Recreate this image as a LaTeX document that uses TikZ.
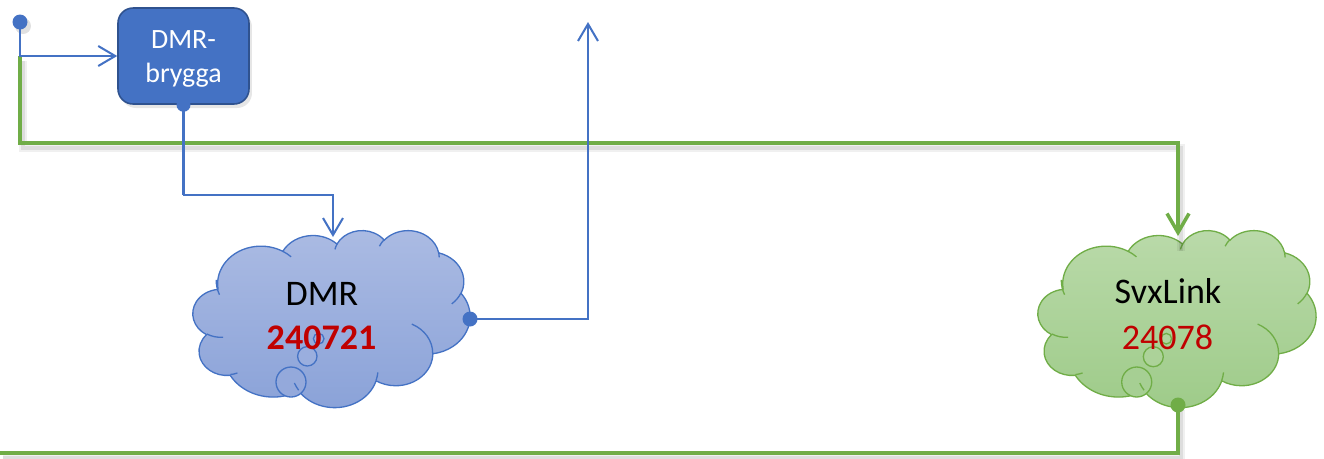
\documentclass[tikz,border=0pt]{standalone}
\usepackage{fontspec}
\setmainfont{Carlito}
\usetikzlibrary{arrows.meta,shadows}
\definecolor{accblue}{HTML}{4472C4}
\definecolor{darkblue}{HTML}{2F528F}
\definecolor{accgreen}{HTML}{70AD47}
\definecolor{numred}{HTML}{C00000}
\definecolor{dmrtop}{RGB}{171,187,227}
\definecolor{dmrbot}{RGB}{138,162,216}
\definecolor{svxtop}{RGB}{186,218,170}
\definecolor{svxbot}{RGB}{158,203,137}
% Office cloud outline in 432x432 path units
\newcommand\cloudbody[5]{%
  \begin{scope}[shift={(#1,#2)},xscale=#3/432,yscale=#4/432]
    \path[#5] (39.00,143.70)
      arc[start angle=-187.75,end angle=-59.65,x radius=67.53,y radius=91.90]
      arc[start angle=-152.02,end angle=-45.46,x radius=53.33,y radius=72.67]
      arc[start angle=-153.49,end angle=-37.32,x radius=43.65,y radius=59.45]
      arc[start angle=-139.71,end angle=-10.21,x radius=48.57,y radius=65.95]
      arc[start angle=-74.77,end angle=23.21,x radius=53.33,y radius=72.73]
      arc[start angle=-37.53,end angle=81.86,x radius=67.75,y radius=92.20]
      arc[start angle=0.46,end angle=121.98,x radius=57.85,y radius=78.67]
      arc[start angle=16.84,end angle=146.23,x radius=67.52,y radius=92.15]
      arc[start angle=58.98,end angle=150.21,x radius=77.20,y radius=105.43]
      arc[start angle=-276.69,end angle=-136.89,x radius=43.60,y radius=59.18]
      arc[start angle=-239.65,end angle=-95.89,x radius=43.45,y radius=59.45]
      -- cycle;
  \end{scope}}
\newcommand\cloudcreases[5]{%
  \begin{scope}[shift={(#1,#2)},xscale=#3/432,yscale=#4/432]
    \draw[#5]
      (46.93,261.77) arc[start angle=85.55,end angle=120.35,x radius=43.45,y radius=59.45]
      (69.28,348.99) arc[start angle=68.24,end angle=83.31,x radius=43.60,y radius=59.18]
      (164.78,390.90) arc[start angle=146.23,end angle=158.47,x radius=67.52,y radius=92.15]
      (288.27,347.51) arc[start angle=4.74,end angle=16.84,x radius=67.52,y radius=92.15]
      (341.29,229.54) arc[start angle=-64.03,end angle=0.46,x radius=57.85,y radius=78.67]
      (417.98,153.54) arc[start angle=23.21,end angle=49.66,x radius=53.33,y radius=72.73]
      (383.24,54.26) arc[start angle=-10.21,end angle=0.83,x radius=48.57,y radius=65.95]
      (290.78,39.52) arc[start angle=-156.29,end angle=-139.71,x radius=48.57,y radius=65.95]
      (221.41,47.20) arc[start angle=-167.73,end angle=-153.49,x radius=43.65,y radius=59.45]
      (140.00,51.92) arc[start angle=-59.65,end angle=-45.74,x radius=67.53,y radius=91.90]
      (41.27,157.89) arc[start angle=157.66,end angle=180.90,x radius=67.53,y radius=91.90];
  \end{scope}}
\tikzset{
  blueline/.style={draw=accblue,line width=1.15pt},
  greenline/.style={draw=accgreen,line width=2pt},
  bluetip/.style={-{Straight Barb[length=0.34cm,width=0.4cm]}},
  greentip/.style={-{Straight Barb[length=0.38cm,width=0.44cm]}},
  shadowwide/.style={draw=black,opacity=0.06,line width=4.5pt,transform canvas={shift={(3,5)}}},
  shadownarrow/.style={draw=black,opacity=0.08,line width=2.4pt,transform canvas={shift={(3,5)}}},
  bryggabox/.style={rectangle,rounded corners=0.3cm,fill=accblue,draw=darkblue,line width=0.9pt,
    minimum width=2.62cm,minimum height=1.92cm,inner sep=0pt,
    drop shadow={shadow xshift=0.06cm,shadow yshift=-0.08cm,opacity=0.2}},
  bryggatext/.style={text=white,align=center,inner sep=0pt,font=\fontsize{15.9pt}{19.3pt}\selectfont},
  cloudtext/.style={inner sep=0pt,anchor=base,font=\fontsize{20.5pt}{25pt}\selectfont},
  dmrcloud/.style={draw=accblue,line width=0.75pt,top color=dmrtop,bottom color=dmrbot},
  svxcloud/.style={draw=accgreen,line width=0.75pt,top color=svxtop,bottom color=svxbot},
}
\begin{document}
\begin{tikzpicture}[x=0.02cm,y=-0.02cm]
\useasboundingbox (0,0) rectangle (1324,458);
% clouds
\cloudbody{193}{230}{277}{177}{dmrcloud}
\draw[accblue,line width=0.75pt,fill=dmrbot!70!dmrtop] (291,382) circle (15);
\draw[accblue,line width=0.75pt,fill=dmrbot!50!dmrtop] (307.3,356.3) circle (9.7);
\draw[accblue,line width=0.75pt,fill=dmrbot!40!dmrtop] (318.7,338.7) circle (5.3);
\cloudcreases{193}{230}{277}{177}{accblue,line width=0.75pt}
\cloudbody{1038}{230}{278}{177}{svxcloud}
\draw[accgreen,line width=0.75pt,fill=svxbot!70!svxtop] (1136.7,382) circle (15);
\draw[accgreen,line width=0.75pt,fill=svxbot!50!svxtop] (1153.3,356.7) circle (10);
\draw[accgreen,line width=0.75pt,fill=svxbot!40!svxtop] (1166.3,338.7) circle (5.3);
\cloudcreases{1038}{230}{278}{177}{accgreen,line width=0.75pt}
% texts in clouds
\node[cloudtext] (dmrname) at (322,305) {DMR};
\node[cloudtext,text=numred] (dmrnum) at (321.5,349) {\bfseries 240721};
\node[cloudtext] (svxname) at (1168,303) {SvxLink};
\node[cloudtext,text=numred] (svxnum) at (1167.5,349) {24078};
% box
\node[bryggabox] (br) at (183.5,56) {};
\node[bryggatext] (brtext) at (183.5,59) {DMR-\\brygga};
% named points
\coordinate (tl) at (20,22);
\coordinate (gcorner) at (20,143);
\coordinate (svxtop) at (1178,236);
\coordinate (dmrtop) at (333,237);
\coordinate (dmrport) at (470,319);
\coordinate (upend) at (588,22);
\coordinate (svxport) at (1178,405);
\coordinate (botend) at (0,453);
\coordinate (jog) at (183,195);
% soft shadows of the green connectors and the top-left dot
\draw[shadowwide] (tl |- br.west) -- (gcorner) -| ([yshift=-0.2cm]svxtop);
\draw[shadownarrow] (tl |- br.west) -- (gcorner) -| ([yshift=-0.2cm]svxtop);
\draw[shadowwide] (svxport) |- (botend);
\draw[shadownarrow] (svxport) |- (botend);
\fill[black,opacity=0.12,transform canvas={shift={(3,4)}}] (tl) circle (8);
% green connectors
\draw[greenline,greentip] (tl |- br.west) -- (gcorner) -| (svxtop);
\draw[greenline] (svxport) |- (botend);
% blue connectors
\draw[blueline,bluetip] (tl) |- (br.west);
\draw[blueline,bluetip] (br.south) |- (jog) -| (dmrtop);
\draw[blueline,bluetip] (dmrport) -| (upend);
% dots
\fill[accblue] (tl) circle (7.5);
\fill[accblue] (br.south) circle (7);
\fill[accblue] (dmrport) circle (7.5);
\fill[accgreen] (svxport) circle (7.5);
\end{tikzpicture}
\end{document}
